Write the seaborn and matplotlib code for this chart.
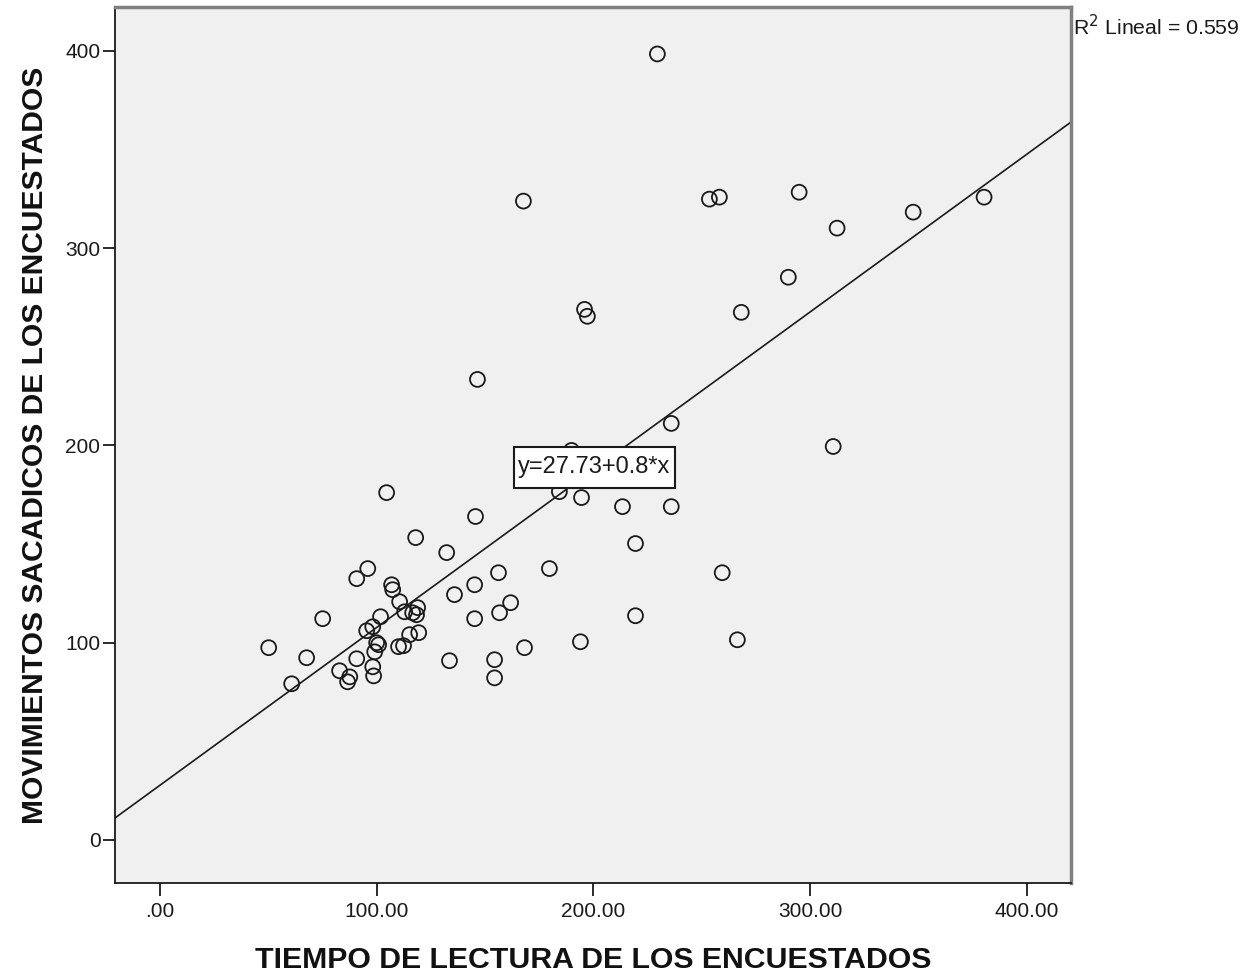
import matplotlib
matplotlib.use("Agg")
import matplotlib.pyplot as plt
import seaborn as sns
import pandas as pd

# Data
tiempo = [50.2, 60.8, 67.7, 75.1, 82.9, 87.6, 86.6, 90.8, 90.8, 95.9,
          95.4, 98.2, 98.6, 98.2, 99.1, 100.0, 100.9, 101.8, 104.6, 106.9,
          107.4, 110.6, 110.1, 112.4, 112.9, 115.2, 116.6, 118.0, 118.9, 118.4,
          119.4, 132.3, 133.6, 135.9, 145.6, 145.2, 145.2, 146.5, 154.4, 154.4,
          156.2, 156.7, 161.8, 168.2, 167.7, 179.7, 184.3, 189.9, 194.5, 194.0,
          195.9, 197.2, 213.4, 219.4, 219.4, 229.5, 235.9, 235.9, 253.5, 258.1,
          259.4, 266.4, 268.2, 289.9, 294.9, 310.6, 312.4, 347.5, 380.2]
sacadicos = [97.5, 79.2, 92.4, 112.2, 85.8, 82.7, 80.2, 91.9, 132.5, 137.6,
             106.1, 108.1, 83.2, 87.8, 95.4, 100.0, 99.0, 113.2, 176.1, 129.4,
             126.9, 120.8, 98.0, 98.5, 115.7, 104.1, 115.2, 153.3, 117.8, 114.2,
             105.1, 145.7, 90.9, 124.4, 164.0, 129.4, 112.2, 233.5, 91.4, 82.2,
             135.5, 115.2, 120.3, 97.5, 323.9, 137.6, 176.6, 197.5, 173.6, 100.5,
             269.0, 265.5, 169.0, 150.3, 113.7, 398.5, 211.2, 169.0, 324.9, 325.9,
             135.5, 101.5, 267.5, 285.3, 328.4, 199.5, 310.2, 318.3, 325.9]
intercepto = 27.73
pendiente = 0.8
r2 = 0.559
x_ticks = [0, 100, 200, 300, 400]
x_tick_labels = [".00", "100.00", "200.00", "300.00", "400.00"]
y_ticks = [0, 100, 200, 300, 400]
y_tick_labels = ["0", "100", "200", "300", "400"]
x_label = "TIEMPO DE LECTURA DE LOS ENCUESTADOS"
y_label = "MOVIMIENTOS SACADICOS DE LOS ENCUESTADOS"

df = pd.DataFrame({"tiempo": tiempo, "sacadicos": sacadicos})

sns.set_theme(style="white")
plt.rcParams["font.family"] = ["Liberation Sans", "DejaVu Sans"]

fig = plt.figure(figsize=(12.45, 9.77), dpi=100)
ax = fig.add_axes([115 / 1245, 1 - 883 / 977, (1071 - 115) / 1245, (883 - 7) / 977])
ax.set_facecolor("#f0f0f0")

sns.scatterplot(data=df, x="tiempo", y="sacadicos", ax=ax, marker="o",
                s=115, facecolors="none", edgecolor="#1a1a1a", linewidth=1.3,
                zorder=3)
ax.axline((0, intercepto), slope=pendiente, color="#1a1a1a", lw=1.2, zorder=2)

ax.set_xlim(-20.7, 420.3)
ax.set_ylim(-21.8, 422.3)
ax.set_xticks(x_ticks)
ax.set_xticklabels(x_tick_labels)
ax.set_yticks(y_ticks)
ax.set_yticklabels(y_tick_labels)
ax.tick_params(axis="both", which="major", direction="out", length=9, width=1.3,
               color="#1a1a1a", labelsize=15, labelcolor="#1a1a1a",
               bottom=True, left=True)
ax.tick_params(axis="x", pad=5)
ax.tick_params(axis="y", pad=1.5)

ax.set_xlabel(x_label, fontsize=21.8, fontweight="bold", labelpad=17.5, color="#111111")
ax.set_ylabel(y_label, fontsize=21.6, fontweight="bold", labelpad=12, color="#111111")

for side in ["left", "bottom"]:
    ax.spines[side].set_color("#1a1a1a")
    ax.spines[side].set_linewidth(1.3)
for side in ["top", "right"]:
    ax.spines[side].set_color("#808080")
    ax.spines[side].set_linewidth(2.5)

ax.text(200.5, 189.0, f"y={intercepto}+{pendiente}*x", fontsize=17,
        ha="center", va="center", color="#1a1a1a", zorder=5,
        bbox=dict(boxstyle="square,pad=0.2", mutation_aspect=2.0,
                  facecolor="white", edgecolor="#1a1a1a", linewidth=1.5))

fig.text(1073 / 1245, 1 - 27 / 977, f"R$^2$ Lineal = {r2}", fontsize=15.3,
         ha="left", va="center", color="#1a1a1a")

fig.savefig("out.png", dpi=100, facecolor="white")
